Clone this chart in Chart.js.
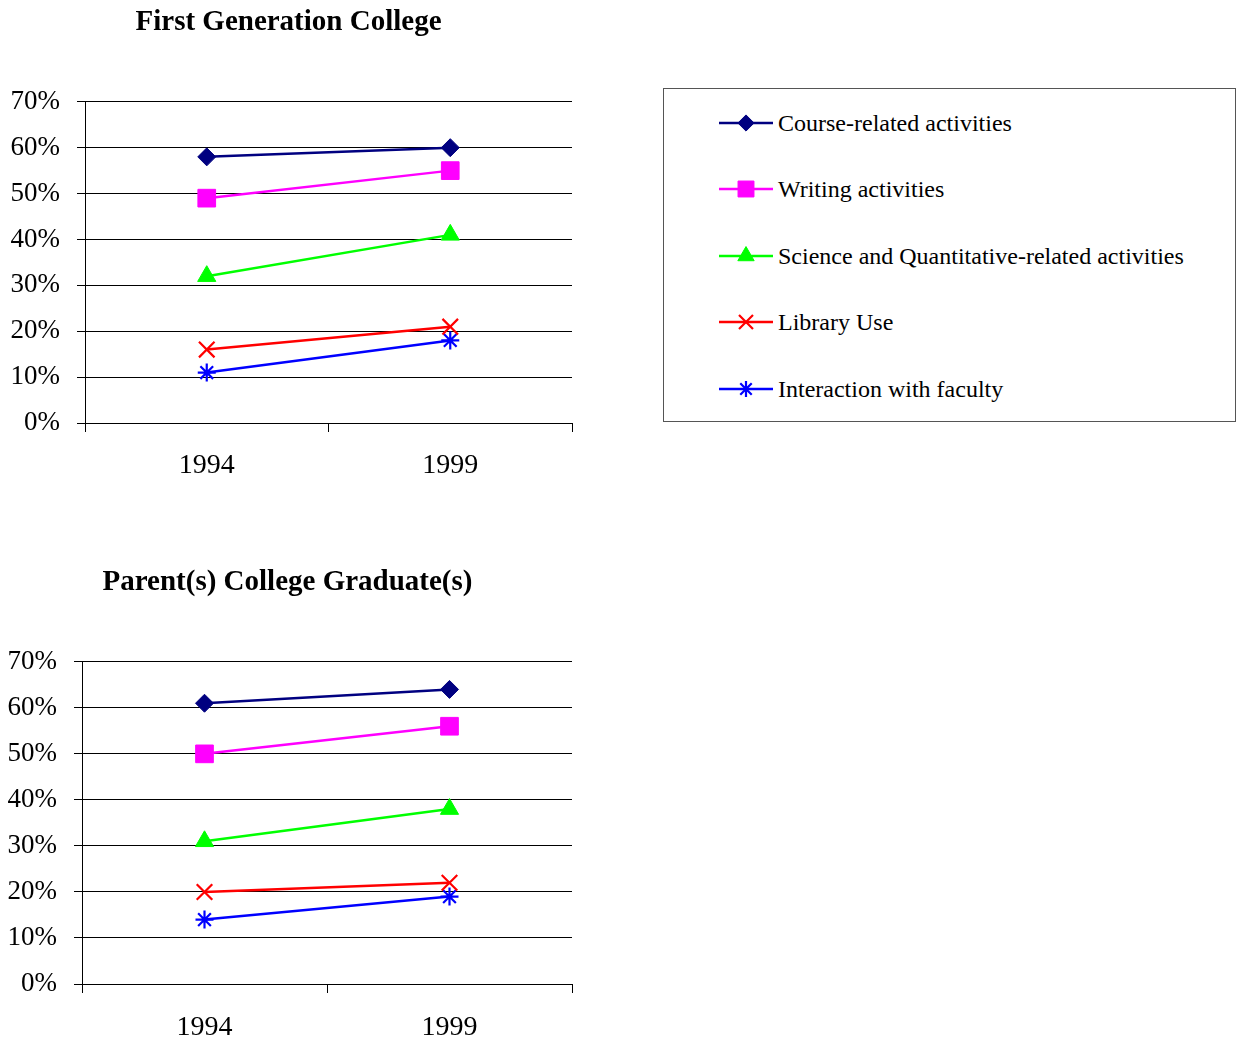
<!DOCTYPE html>
<html>
<head>
<meta charset="utf-8">
<script src="https://cdn.jsdelivr.net/npm/chart.js@4/dist/chart.umd.min.js"></script>
<style>
  html, body { margin: 0; padding: 0; background: #fff; }
  body { width: 1236px; height: 1043px; position: relative; overflow: hidden; font-family: "Liberation Serif", "Times New Roman", serif; }
  .box { position: absolute; }
  #legend {
    position: absolute; left: 663px; top: 88px; width: 573px; height: 334px;
    border: 1px solid #555; box-sizing: border-box; background: #fff;
  }
  .row { position: absolute; left: 0; height: 30px; }
  .row canvas { position: absolute; left: 54px; top: 0; }
  .row span { position: absolute; left: 114px; white-space: nowrap; font-size: 24px; color: #000; line-height: 30px; top: 0; }
</style>
</head>
<body>
<div class="box" style="left:0;top:0;width:578px;height:500px;"><canvas id="first"></canvas></div>
<div class="box" style="left:0;top:560px;width:576px;height:483px;"><canvas id="parents"></canvas></div>
<div id="legend"></div>
<script>
// Survey years
const years = ['1994', '1999'];

// Activity series names
const seriesNames = [
  'Course-related activities',
  'Writing activities',
  'Science and Quantitative-related activities',
  'Library Use',
  'Interaction with faculty'
];

// First generation college students (percent)
const firstCourse      = [58, 60];
const firstWriting     = [49, 55];
const firstScience     = [32, 41];
const firstLibrary     = [16, 21];
const firstInteraction = [11, 18];

// Students whose parent(s) graduated college (percent)
const parentCourse      = [61, 64];
const parentWriting     = [50, 56];
const parentScience     = [31, 38];
const parentLibrary     = [20, 22];
const parentInteraction = [14, 19];

// Y axis ticks
const yTicks = [0, 10, 20, 30, 40, 50, 60, 70];

const SERIF = '"Liberation Serif", "Times New Roman", serif';

const styles = [
  { color: '#000080', pointStyle: 'rectRot',  radius: 9,    pbw: 1 },
  { color: '#FF00FF', pointStyle: 'rect',     radius: 12.5, pbw: 1 },
  { color: '#00FF00', pointStyle: 'triangle', radius: 10.5, pbw: 1 },
  { color: '#FF0000', pointStyle: 'crossRot', radius: 11,   pbw: 2.2 },
  { color: '#0000FF', pointStyle: 'star',     radius: 9,    pbw: 2.2 }
];

Chart.defaults.font.family = SERIF;
Chart.defaults.color = '#000';

function makeDatasets(series) {
  return series.map((values, i) => ({
    label: seriesNames[i],
    data: values,
    borderColor: styles[i].color,
    backgroundColor: styles[i].color,
    borderWidth: 2.5,
    pointStyle: styles[i].pointStyle,
    pointRadius: styles[i].radius,
    pointHoverRadius: styles[i].radius,
    pointBorderWidth: styles[i].pbw,
    pointBackgroundColor: styles[i].color,
    pointBorderColor: styles[i].color,
    tension: 0
  }));
}

// geometry: left padding + y-axis width gives the plot's left edge
function makeChart(id, title, series, geo) {
  return new Chart(document.getElementById(id), {
    type: 'line',
    data: { labels: years, datasets: makeDatasets(series) },
    options: {
      responsive: true,
      maintainAspectRatio: false,
      animation: false,
      events: [],
      layout: { autoPadding: false, padding: { left: geo.left, right: geo.right, top: 0, bottom: 0 } },
      plugins: {
        legend: { display: false },
        tooltip: { enabled: false },
        title: {
          display: true,
          text: title,
          font: { family: SERIF, size: 29, weight: 'bold' },
          color: '#000',
          padding: { top: 5, bottom: 62 }
        }
      },
      scales: {
        x: {
          type: 'category',
          offset: true,
          grid: { offset: true, drawOnChartArea: false, drawTicks: true, tickLength: 9, color: '#000', lineWidth: 1 },
          border: { display: true, color: '#000', width: 1 },
          ticks: { font: { family: SERIF, size: 28 }, color: '#000', padding: geo.xPad, maxRotation: 0 },
          afterFit: s => {
            s.height = s.chart.height - geo.plotBottom;
            s.paddingLeft = 0;
            s.paddingRight = 0;
          }
        },
        y: {
          min: 0, max: 70,
          afterBuildTicks: s => { s.ticks = yTicks.map(v => ({ value: v })); },
          grid: { drawTicks: true, tickLength: 8, color: '#000', lineWidth: 1 },
          border: { display: true, color: '#000', width: 1 },
          ticks: { font: { family: SERIF, size: 27 }, color: '#000', padding: 17, callback: v => v + '%' },
          afterFit: s => { s.width = geo.axisWidth; }
        }
      }
    }
  });
}

makeChart('first', 'First Generation College',
  [firstCourse, firstWriting, firstScience, firstLibrary, firstInteraction],
  { left: 5, axisWidth: 80, right: 6, plotBottom: 423, xPad: 17 });
makeChart('parents', 'Parent(s) College Graduate(s)',
  [parentCourse, parentWriting, parentScience, parentLibrary, parentInteraction],
  { left: 3, axisWidth: 79, right: 4, plotBottom: 424, xPad: 18 });

// Legend with line + marker samples
const legend = document.getElementById('legend');
const rowCenters = [34, 100, 167, 233, 300];
seriesNames.forEach((name, i) => {
  const row = document.createElement('div');
  row.className = 'row';
  row.style.top = (rowCenters[i] - 15) + 'px';
  const c = document.createElement('canvas');
  c.width = 56; c.height = 30;
  const ctx = c.getContext('2d');
  ctx.strokeStyle = styles[i].color;
  ctx.lineWidth = 2.5;
  ctx.beginPath(); ctx.moveTo(1, 15); ctx.lineTo(55, 15); ctx.stroke();
  const opts = {
    pointStyle: styles[i].pointStyle,
    radius: styles[i].radius * 0.9,
    rotation: 0,
    borderWidth: styles[i].pbw
  };
  ctx.fillStyle = styles[i].color;
  ctx.lineWidth = styles[i].pbw;
  if (Chart.helpers && Chart.helpers.drawPoint) {
    Chart.helpers.drawPoint(ctx, opts, 28, 15);
  }
  row.appendChild(c);
  const t = document.createElement('span');
  t.textContent = name;
  row.appendChild(t);
  legend.appendChild(row);
});
</script>
</body>
</html>
